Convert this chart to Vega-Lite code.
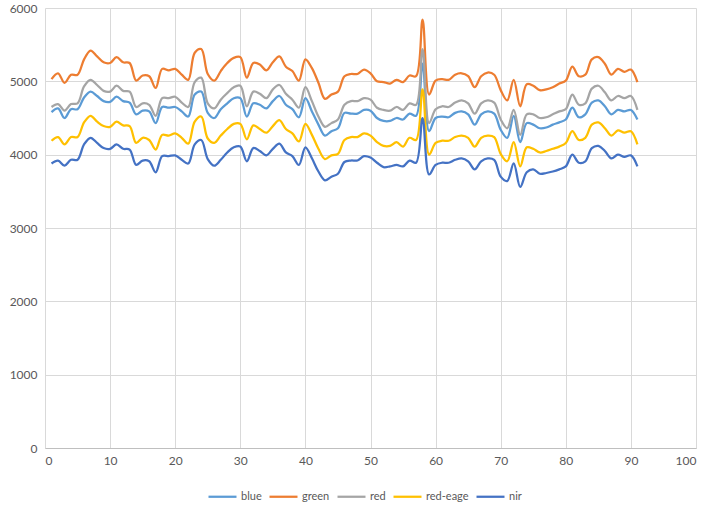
{
 "$schema": "https://vega.github.io/schema/vega-lite/v6.json",
 "width": 651,
 "height": 440,
 "autosize": {"type": "none"},
 "padding": {"left": 45, "top": 8, "right": 15, "bottom": 66},
 "background": "white",
 "data": {"values": [
  {"x":1,"blue":4580,"green":5030,"red":4650,"red-eage":4190,"nir":3880},
  {"x":2,"blue":4630,"green":5110,"red":4690,"red-eage":4240,"nir":3920},
  {"x":3,"blue":4500,"green":4980,"red":4600,"red-eage":4140,"nir":3850},
  {"x":4,"blue":4620,"green":5090,"red":4690,"red-eage":4240,"nir":3930},
  {"x":5,"blue":4620,"green":5090,"red":4700,"red-eage":4240,"nir":3930},
  {"x":6,"blue":4780,"green":5300,"red":4930,"red-eage":4440,"nir":4140},
  {"x":7,"blue":4860,"green":5420,"red":5020,"red-eage":4530,"nir":4230},
  {"x":8,"blue":4800,"green":5340,"red":4950,"red-eage":4450,"nir":4160},
  {"x":9,"blue":4730,"green":5260,"red":4870,"red-eage":4390,"nir":4090},
  {"x":10,"blue":4720,"green":5250,"red":4860,"red-eage":4380,"nir":4080},
  {"x":11,"blue":4790,"green":5330,"red":4940,"red-eage":4450,"nir":4140},
  {"x":12,"blue":4730,"green":5260,"red":4870,"red-eage":4400,"nir":4080},
  {"x":13,"blue":4710,"green":5250,"red":4860,"red-eage":4390,"nir":4070},
  {"x":14,"blue":4550,"green":5010,"red":4650,"red-eage":4160,"nir":3860},
  {"x":15,"blue":4600,"green":5080,"red":4700,"red-eage":4230,"nir":3920},
  {"x":16,"blue":4590,"green":5070,"red":4680,"red-eage":4200,"nir":3910},
  {"x":17,"blue":4430,"green":4910,"red":4530,"red-eage":4070,"nir":3760},
  {"x":18,"blue":4650,"green":5170,"red":4770,"red-eage":4270,"nir":3980},
  {"x":19,"blue":4640,"green":5150,"red":4770,"red-eage":4260,"nir":3980},
  {"x":20,"blue":4650,"green":5170,"red":4790,"red-eage":4290,"nir":3990},
  {"x":21,"blue":4590,"green":5090,"red":4710,"red-eage":4230,"nir":3930},
  {"x":22,"blue":4520,"green":5020,"red":4650,"red-eage":4150,"nir":3880},
  {"x":23,"blue":4820,"green":5390,"red":4990,"red-eage":4450,"nir":4140},
  {"x":24,"blue":4860,"green":5440,"red":5050,"red-eage":4520,"nir":4200},
  {"x":25,"blue":4570,"green":5100,"red":4700,"red-eage":4220,"nir":3940},
  {"x":26,"blue":4500,"green":5010,"red":4630,"red-eage":4160,"nir":3850},
  {"x":27,"blue":4620,"green":5140,"red":4750,"red-eage":4260,"nir":3930},
  {"x":28,"blue":4700,"green":5250,"red":4840,"red-eage":4350,"nir":4030},
  {"x":29,"blue":4770,"green":5320,"red":4920,"red-eage":4420,"nir":4100},
  {"x":30,"blue":4770,"green":5330,"red":4940,"red-eage":4420,"nir":4110},
  {"x":31,"blue":4520,"green":5050,"red":4660,"red-eage":4210,"nir":3910},
  {"x":32,"blue":4700,"green":5250,"red":4860,"red-eage":4400,"nir":4090},
  {"x":33,"blue":4680,"green":5230,"red":4830,"red-eage":4350,"nir":4050},
  {"x":34,"blue":4630,"green":5150,"red":4770,"red-eage":4300,"nir":3990},
  {"x":35,"blue":4730,"green":5260,"red":4890,"red-eage":4390,"nir":4080},
  {"x":36,"blue":4800,"green":5340,"red":4950,"red-eage":4470,"nir":4150},
  {"x":37,"blue":4680,"green":5200,"red":4830,"red-eage":4350,"nir":4030},
  {"x":38,"blue":4620,"green":5140,"red":4750,"red-eage":4290,"nir":3980},
  {"x":39,"blue":4510,"green":5010,"red":4640,"red-eage":4180,"nir":3860},
  {"x":40,"blue":4770,"green":5300,"red":4920,"red-eage":4420,"nir":4100},
  {"x":41,"blue":4590,"green":5180,"red":4730,"red-eage":4270,"nir":3950},
  {"x":42,"blue":4410,"green":4980,"red":4520,"red-eage":4080,"nir":3770},
  {"x":43,"blue":4260,"green":4760,"red":4380,"red-eage":3940,"nir":3650},
  {"x":44,"blue":4320,"green":4820,"red":4430,"red-eage":3990,"nir":3700},
  {"x":45,"blue":4360,"green":4860,"red":4480,"red-eage":4010,"nir":3740},
  {"x":46,"blue":4570,"green":5070,"red":4680,"red-eage":4200,"nir":3900},
  {"x":47,"blue":4560,"green":5100,"red":4730,"red-eage":4240,"nir":3920},
  {"x":48,"blue":4560,"green":5100,"red":4730,"red-eage":4240,"nir":3920},
  {"x":49,"blue":4610,"green":5160,"red":4770,"red-eage":4290,"nir":3980},
  {"x":50,"blue":4600,"green":5110,"red":4750,"red-eage":4260,"nir":3960},
  {"x":51,"blue":4500,"green":5000,"red":4640,"red-eage":4170,"nir":3890},
  {"x":52,"blue":4460,"green":4990,"red":4610,"red-eage":4120,"nir":3830},
  {"x":53,"blue":4460,"green":4970,"red":4600,"red-eage":4120,"nir":3840},
  {"x":54,"blue":4500,"green":5020,"red":4650,"red-eage":4170,"nir":3860},
  {"x":55,"blue":4480,"green":4990,"red":4610,"red-eage":4110,"nir":3840},
  {"x":56,"blue":4560,"green":5080,"red":4700,"red-eage":4230,"nir":3920},
  {"x":57,"blue":4530,"green":5070,"red":4680,"red-eage":4200,"nir":3890},
  {"x":58,"blue":5240,"green":5840,"red":5440,"red-eage":4890,"nir":4500},
  {"x":59,"blue":4320,"green":4820,"red":4430,"red-eage":4000,"nir":3730},
  {"x":60,"blue":4500,"green":5010,"red":4620,"red-eage":4160,"nir":3860},
  {"x":61,"blue":4520,"green":5030,"red":4660,"red-eage":4190,"nir":3890},
  {"x":62,"blue":4510,"green":5020,"red":4650,"red-eage":4190,"nir":3890},
  {"x":63,"blue":4570,"green":5090,"red":4710,"red-eage":4240,"nir":3930},
  {"x":64,"blue":4590,"green":5110,"red":4740,"red-eage":4260,"nir":3950},
  {"x":65,"blue":4550,"green":5070,"red":4700,"red-eage":4230,"nir":3910},
  {"x":66,"blue":4410,"green":4920,"red":4560,"red-eage":4110,"nir":3800},
  {"x":67,"blue":4550,"green":5070,"red":4700,"red-eage":4230,"nir":3910},
  {"x":68,"blue":4590,"green":5120,"red":4740,"red-eage":4260,"nir":3950},
  {"x":69,"blue":4560,"green":5090,"red":4710,"red-eage":4240,"nir":3930},
  {"x":70,"blue":4340,"green":4880,"red":4480,"red-eage":4010,"nir":3700},
  {"x":71,"blue":4230,"green":4740,"red":4360,"red-eage":3910,"nir":3640},
  {"x":72,"blue":4530,"green":5020,"red":4610,"red-eage":4170,"nir":3880},
  {"x":73,"blue":4170,"green":4660,"red":4270,"red-eage":3840,"nir":3560},
  {"x":74,"blue":4430,"green":4960,"red":4550,"red-eage":4100,"nir":3760},
  {"x":75,"blue":4410,"green":4940,"red":4550,"red-eage":4080,"nir":3800},
  {"x":76,"blue":4360,"green":4880,"red":4500,"red-eage":4030,"nir":3740},
  {"x":77,"blue":4370,"green":4890,"red":4510,"red-eage":4050,"nir":3750},
  {"x":78,"blue":4410,"green":4920,"red":4550,"red-eage":4080,"nir":3770},
  {"x":79,"blue":4440,"green":4970,"red":4590,"red-eage":4110,"nir":3800},
  {"x":80,"blue":4480,"green":5010,"red":4620,"red-eage":4160,"nir":3840},
  {"x":81,"blue":4640,"green":5200,"red":4820,"red-eage":4320,"nir":4000},
  {"x":82,"blue":4510,"green":5070,"red":4680,"red-eage":4200,"nir":3890},
  {"x":83,"blue":4550,"green":5090,"red":4700,"red-eage":4230,"nir":3910},
  {"x":84,"blue":4710,"green":5300,"red":4900,"red-eage":4410,"nir":4090},
  {"x":85,"blue":4740,"green":5330,"red":4940,"red-eage":4440,"nir":4120},
  {"x":86,"blue":4660,"green":5240,"red":4850,"red-eage":4360,"nir":4050},
  {"x":87,"blue":4550,"green":5090,"red":4740,"red-eage":4260,"nir":3950},
  {"x":88,"blue":4610,"green":5170,"red":4800,"red-eage":4330,"nir":4000},
  {"x":89,"blue":4590,"green":5130,"red":4770,"red-eage":4300,"nir":3970},
  {"x":90,"blue":4610,"green":5160,"red":4800,"red-eage":4320,"nir":3990},
  {"x":91,"blue":4480,"green":4990,"red":4610,"red-eage":4140,"nir":3840}
 ]},
 "transform": [{"fold": ["blue", "green", "red", "red-eage", "nir"], "as": ["band", "value"]}],
 "mark": {"type": "line", "interpolate": "catmull-rom", "strokeWidth": 2.25},
 "encoding": {
  "x": {"field": "x", "type": "quantitative",
        "scale": {"domain": [0, 100], "nice": false},
        "axis": {"values": [0,10,20,30,40,50,60,70,80,90,100], "title": null, "grid": true, "gridColor": "#D9D9D9",
                 "domainColor": "#BFBFBF", "ticks": false, "labelColor": "#595959", "labelFontSize": 12,
                 "labelFont": "Lato", "labelPadding": 7}},
  "y": {"field": "value", "type": "quantitative",
        "scale": {"domain": [0, 6000], "nice": false},
        "axis": {"values": [0,1000,2000,3000,4000,5000,6000], "format": "d", "title": null, "domain": false, "ticks": false,
                 "gridColor": "#D9D9D9", "labelColor": "#595959", "labelFontSize": 12, "labelFont": "Lato",
                 "labelPadding": 8}},
  "color": {"field": "band", "type": "nominal",
            "scale": {"domain": ["blue", "green", "red", "red-eage", "nir"],
                      "range": ["#5B9BD5", "#ED7D31", "#A5A5A5", "#FFC000", "#4472C4"]},
            "legend": {"title": null, "orient": "none", "legendX": 162, "legendY": 473, "direction": "horizontal",
                       "symbolType": "stroke", "symbolSize": 784, "symbolStrokeWidth": 2.25,
                       "labelFontSize": 11, "labelFont": "Lato", "labelColor": "#595959",
                       "columnPadding": 3, "labelOffset": 3}}
 },
 "config": {"view": {"stroke": null}}
}
